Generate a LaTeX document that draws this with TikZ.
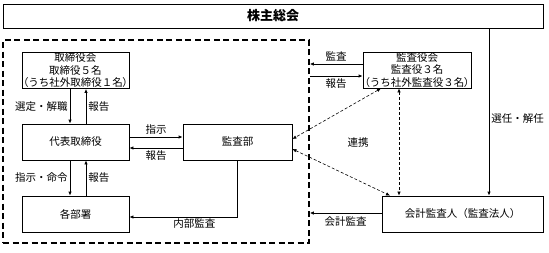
\documentclass[tikz,border=0pt]{standalone}
\usepackage{fontspec}
\setmainfont{Noto Sans CJK JP}
\newcommand{\narrowp}[1]{{\addfontfeature{RawFeature=+palt}#1}}
\usetikzlibrary{arrows.meta, calc}

\begin{document}
\begin{tikzpicture}[x=1pt, y=-1pt, font=\fontsize{10.5}{12.5}\selectfont,
    box/.style={draw, line width=0.8pt, minimum height=36pt, inner sep=0pt, align=center},
    arr/.style={-{Latex[length=4pt,width=3.5pt]}, line width=0.8pt},
    link/.style={{Latex[length=4pt,width=3.5pt]}-{Latex[length=4pt,width=3.5pt]}, densely dashed, line width=0.6pt},
    lbl/.style={inner sep=2pt}]
    \useasboundingbox (0,0) rectangle (549,252);
    \node[draw, line width=0.8pt, minimum width=540pt, minimum height=24pt,
          font=\fontsize{13}{15}\selectfont\bfseries] (soukai) at (273,16) {株主総会};
    \node[draw, line width=1.6pt, dash pattern=on 6pt off 3.5pt,
          minimum width=306pt, minimum height=203pt] (board) at (156,141.5) {};
    \node[box, minimum width=107pt] (torikai) at (75.5,70.5)
        {取締役会\\取締役５名\\\narrowp{（}うち社外取締役１名\narrowp{）}};
    \node[box, minimum width=107pt] (daihyo) at (75.5,142) {代表取締役};
    \node[box, minimum width=107pt] (kakubu) at (75.5,214) {各部署};
    \node[box, minimum width=109pt] (kansabu) at (237.5,142) {監査部};
    \node[box, minimum width=108pt] (kansayaku) at (417,70)
        {監査役会\\監査役３名\\\narrowp{（}うち社外監査役３名\narrowp{）}};
    \node[box, minimum width=161pt] (kaikei) at (462.5,214) {会計監査人（監査法人）};
    \node (renkei) at (358,143) {連携};

    \draw[arr] ($(torikai.south)+(-5.5,0)$) coordinate (t1) -- (t1 |- daihyo.north)
        node[midway, left, lbl] {選定・解職};
    \draw[arr] ($(daihyo.north)+(10.5,0)$) coordinate (t2) -- (t2 |- torikai.south)
        node[midway, right, lbl] {報告};
    \draw[arr] ($(daihyo.south)+(-5.5,0)$) coordinate (d1) -- (d1 |- kakubu.north)
        node[midway, left, lbl] {指示・命令};
    \draw[arr] ($(kakubu.north)+(10.5,0)$) coordinate (d2) -- (d2 |- daihyo.south)
        node[midway, right, lbl] {報告};
    \draw[arr] ($(daihyo.east)+(0,-5)$) coordinate (d3) -- (d3 -| kansabu.west)
        node[midway, above, lbl] {指示};
    \draw[arr] ($(kansabu.west)+(0,6)$) coordinate (d4) -- (d4 -| daihyo.east)
        node[midway, below, lbl] {報告};
    \draw[arr] (kansabu.south) |- ($(kakubu.east)+(0,3)$)
        node[pos=0.7, below, inner sep=1pt] {内部監査};

    \draw[arr] ($(kansayaku.west)+(0,-6)$) coordinate (k1) -- (k1 -| board.east)
        node[midway, above, lbl] {監査};
    \coordinate (k2) at ($(kansayaku.west)+(0,6)$);
    \draw[arr] (k2 -| board.east) -- (k2) node[midway, below, lbl] {報告};
    \coordinate (s1) at ($(kaikei.north)+(26.5,0)$);
    \draw[arr] (s1 |- soukai.south) -- (s1) node[pos=0.54, right, lbl] {選任・解任};
    \draw[arr] ($(kaikei.west)+(0,-1)$) coordinate (k3) -- (k3 -| board.east)
        node[midway, below, inner sep=3pt] {会計監査};

    \draw[link] ($(kansayaku.south)+(-36,0)$) -- ($(kansabu.east)+(0,-3)$);
    \draw[link] ($(kansabu.east)+(0,7)$) -- ($(kaikei.north)+(-72.5,0)$);
    \draw[link] ($(kansayaku.south)+(-18,0)$) coordinate (k4) -- (k4 |- kaikei.north);
\end{tikzpicture}
\end{document}
